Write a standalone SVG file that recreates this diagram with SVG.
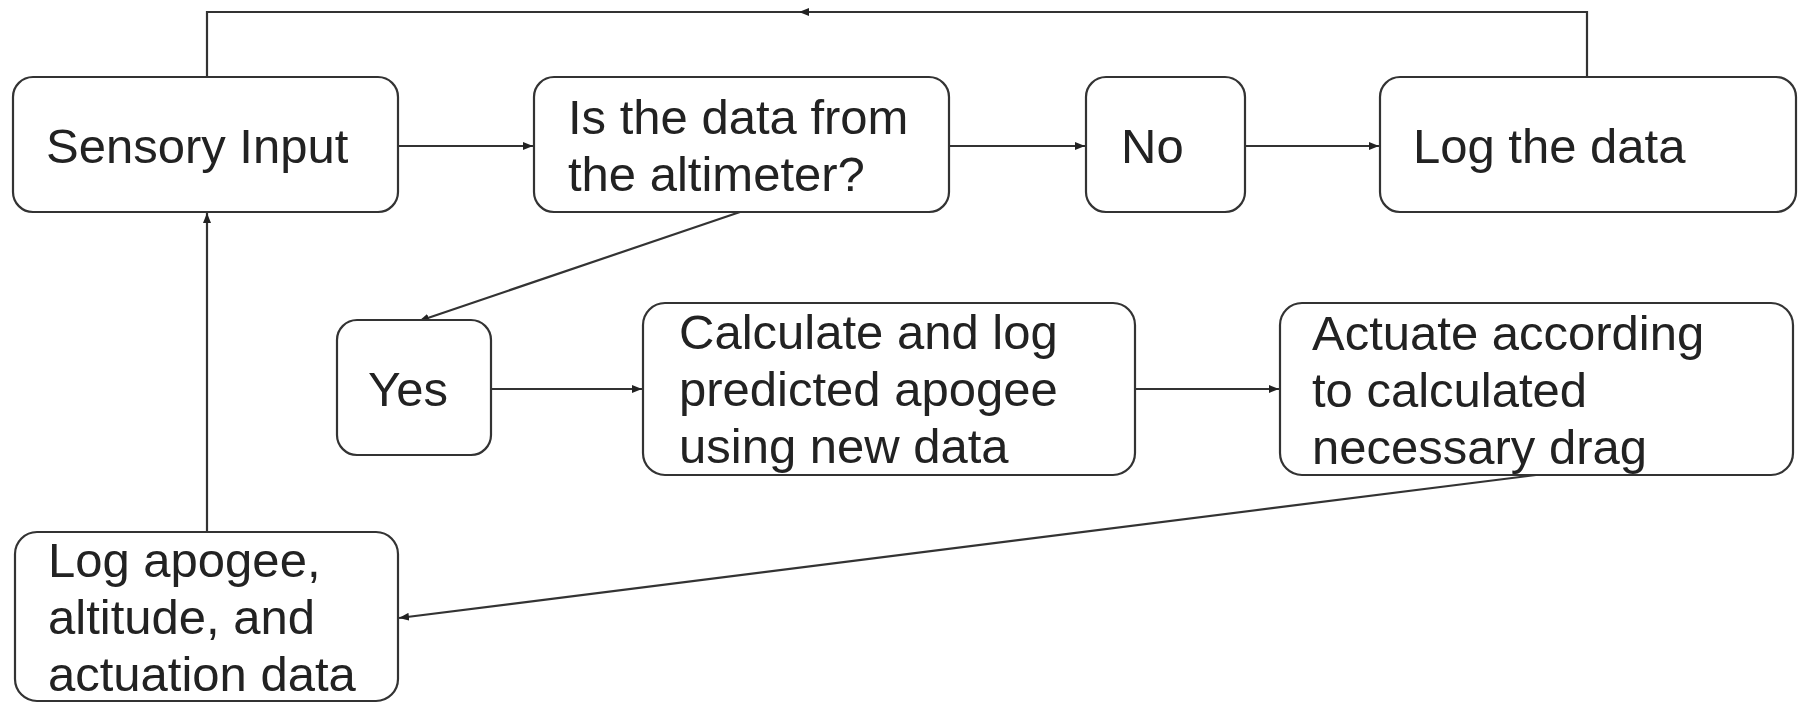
<svg xmlns="http://www.w3.org/2000/svg" width="1803" height="703" viewBox="0 0 1803 703">
<style>
.box{fill:#fff;stroke:#333;stroke-width:2.2}
.lbl{font-family:"Liberation Sans",Arial,sans-serif;font-size:49px;fill:#222}
.conn{fill:none;stroke:#333;stroke-width:2.2}
</style>
<defs>
<marker id="arr" viewBox="0 0 10 8" refX="10" refY="4" markerWidth="10" markerHeight="8" markerUnits="userSpaceOnUse" orient="auto">
<path d="M0,0 L10,4 L0,8 z" fill="#222"/>
</marker>
</defs>
<rect width="1803" height="703" fill="#fff"/>
<g id="connectors">
<path class="conn" d="M1587,77 V12 H799" marker-end="url(#arr)"/>
<path class="conn" d="M800,12 H207 V77"/>
<line class="conn" x1="398" y1="146" x2="533" y2="146" marker-end="url(#arr)"/>
<line class="conn" x1="949" y1="146" x2="1085" y2="146" marker-end="url(#arr)"/>
<line class="conn" x1="1245" y1="146" x2="1379" y2="146" marker-end="url(#arr)"/>
<line class="conn" x1="740" y1="212" x2="419" y2="321" marker-end="url(#arr)"/>
<line class="conn" x1="491" y1="389" x2="642" y2="389" marker-end="url(#arr)"/>
<line class="conn" x1="1135" y1="389" x2="1279" y2="389" marker-end="url(#arr)"/>
<line class="conn" x1="1536" y1="475" x2="399" y2="618" marker-end="url(#arr)"/>
<line class="conn" x1="207" y1="532" x2="207" y2="213" marker-end="url(#arr)"/>
</g>
<g id="sensory">
<rect class="box" x="13" y="77" width="385" height="135" rx="20"/>
<text class="lbl" x="46" y="163">Sensory Input</text>
</g>
<g id="isdata">
<rect class="box" x="534" y="77" width="415" height="135" rx="20"/>
<text class="lbl" x="568" y="134">Is the data from</text>
<text class="lbl" x="568" y="191">the altimeter?</text>
</g>
<g id="no">
<rect class="box" x="1086" y="77" width="159" height="135" rx="20"/>
<text class="lbl" x="1121" y="163">No</text>
</g>
<g id="logdata">
<rect class="box" x="1380" y="77" width="416" height="135" rx="20"/>
<text class="lbl" x="1413" y="163">Log the data</text>
</g>
<g id="yes">
<rect class="box" x="337" y="320" width="154" height="135" rx="20"/>
<text class="lbl" x="368" y="406">Yes</text>
</g>
<g id="calc">
<rect class="box" x="643" y="303" width="492" height="172" rx="22"/>
<text class="lbl" x="679" y="349">Calculate and log</text>
<text class="lbl" x="679" y="406">predicted apogee</text>
<text class="lbl" x="679" y="463">using new data</text>
</g>
<g id="actuate">
<rect class="box" x="1280" y="303" width="513" height="172" rx="22"/>
<text class="lbl" x="1312" y="350">Actuate according</text>
<text class="lbl" x="1312" y="407">to calculated</text>
<text class="lbl" x="1312" y="464">necessary drag</text>
</g>
<g id="logapogee">
<rect class="box" x="15" y="532" width="383" height="169" rx="22"/>
<text class="lbl" x="48" y="577">Log apogee,</text>
<text class="lbl" x="48" y="634">altitude, and</text>
<text class="lbl" x="48" y="691">actuation data</text>
</g>
</svg>
